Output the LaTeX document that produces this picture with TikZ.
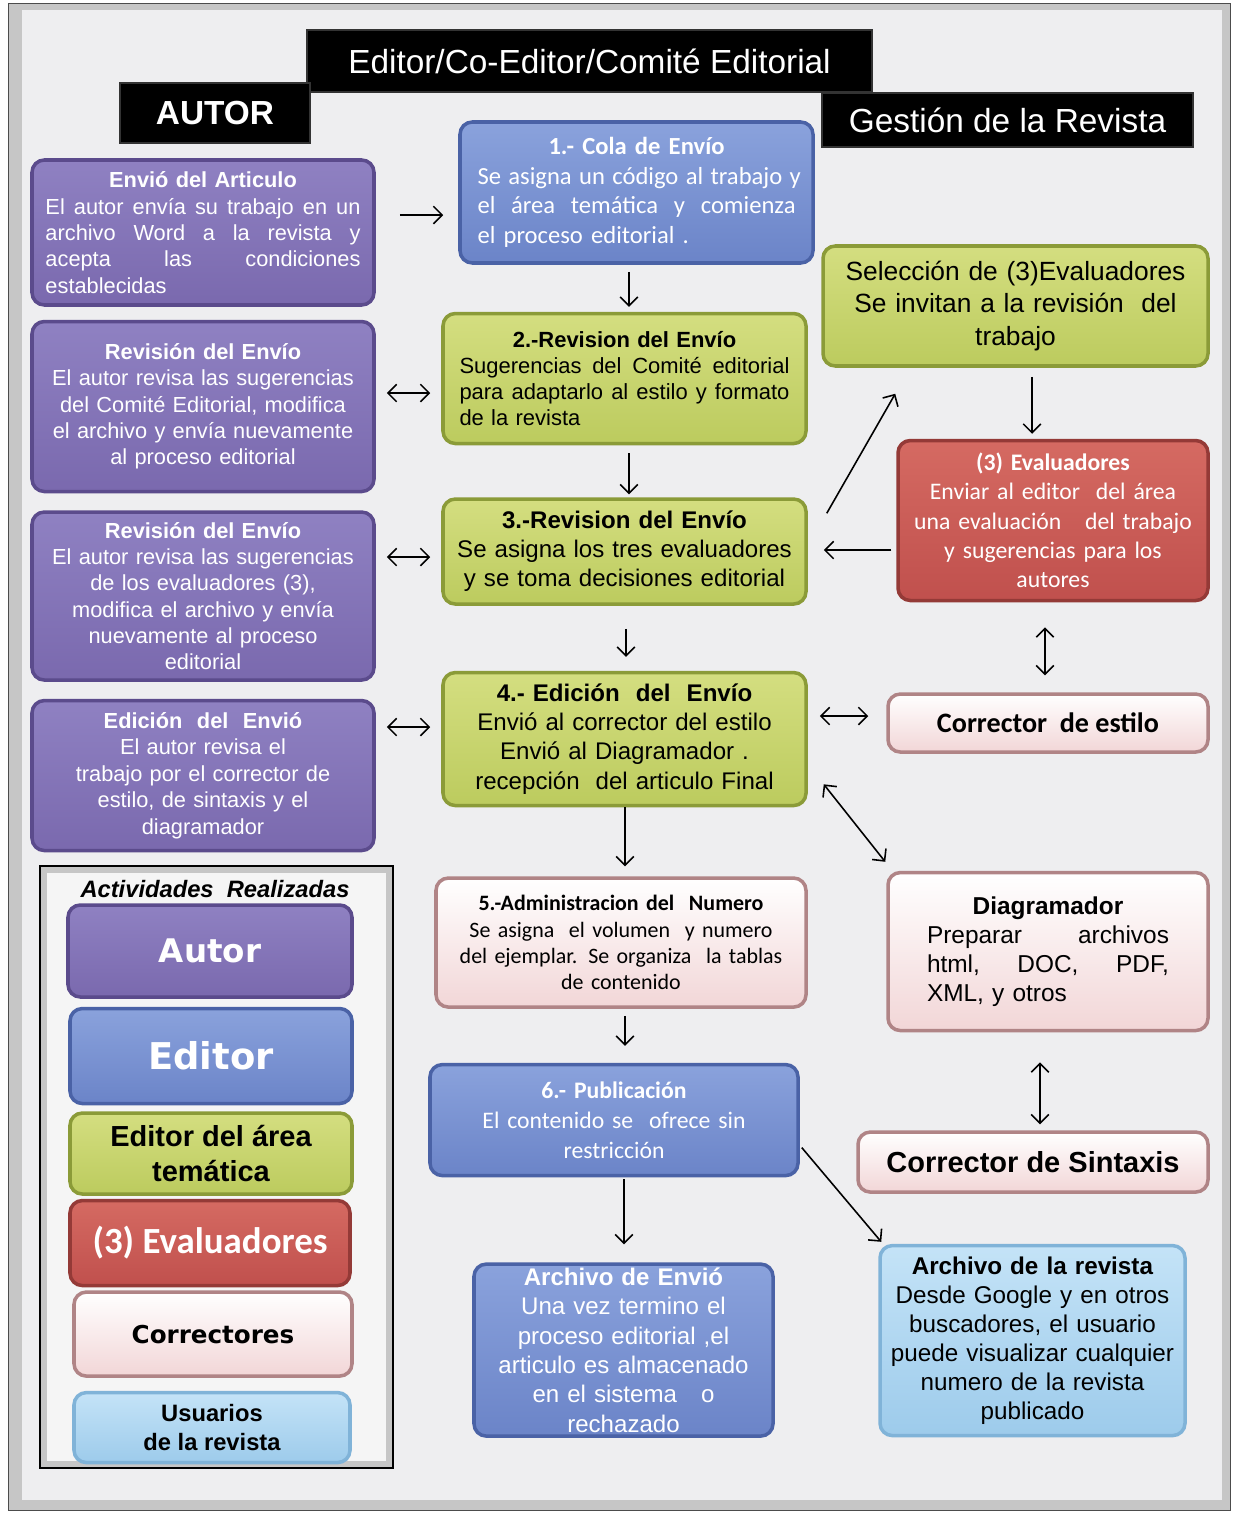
\documentclass[tikz,border=0pt]{standalone}
\usepackage{fontspec}
\setmainfont{Liberation Sans}
\newfontfamily\calibrifont{Carlito}
\newfontfamily\dejavufont{DejaVu Sans}
\usepackage{tikz}
\usetikzlibrary{arrows.meta, positioning}
\definecolor{bgcol}{HTML}{EEEEF0}
\definecolor{autorTop}{HTML}{8F81C2}
\definecolor{autorMain}{HTML}{7A69AE}
\definecolor{autorDark}{HTML}{5B4B8C}
\definecolor{editorTop}{HTML}{8AA2DC}
\definecolor{editorMain}{HTML}{6B84C8}
\definecolor{editorDark}{HTML}{4A62A6}
\definecolor{areaTop}{HTML}{D4DE80}
\definecolor{areaMain}{HTML}{BCCB5E}
\definecolor{areaDark}{HTML}{8B9B38}
\definecolor{evalTop}{HTML}{D56A62}
\definecolor{evalMain}{HTML}{C0504D}
\definecolor{evalDark}{HTML}{943A37}
\definecolor{correcTop}{HTML}{FFFFFF}
\definecolor{correcMain}{HTML}{F2D6D7}
\definecolor{correcDark}{HTML}{B08486}
\definecolor{usuTop}{HTML}{C4E3F7}
\definecolor{usuMain}{HTML}{9DCBEB}
\definecolor{usuDark}{HTML}{80B3D8}
% justified line / left line of a given width
\newcommand{\jl}[2][6.3cm]{\leavevmode\hbox to #1{\frenchspacing\spaceskip=0.3em plus 1fil\xspaceskip=\spaceskip\relax #2}}
\newcommand{\lline}[2][6.3cm]{\leavevmode\hbox to #1{#2\hfil}}
\tikzset{
  boxbase/.style={rectangle, rounded corners=7pt, line width=2pt, align=center, inner sep=1pt},
  autorbox/.style={boxbase, top color=autorTop, bottom color=autorMain, draw=autorDark, text=white, font=\fontsize{12.4}{15}\selectfont},
  editorbox/.style={boxbase, top color=editorTop, bottom color=editorMain, draw=editorDark, text=white, font=\calibrifont\fontsize{14}{16.8}\selectfont},
  areabox/.style={boxbase, top color=areaTop, bottom color=areaMain, draw=areaDark, text=black, font=\fontsize{12.5}{14.9}\selectfont},
  evalbox/.style={boxbase, top color=evalTop, bottom color=evalMain, draw=evalDark, text=white, font=\calibrifont\fontsize{13.5}{16.7}\selectfont},
  correcbox/.style={boxbase, top color=correcTop, bottom color=correcMain, draw=correcDark, text=black},
  usuariobox/.style={boxbase, top color=usuTop, bottom color=usuMain, draw=usuDark, text=black, font=\fontsize{13.8}{16.5}\selectfont},
  titlebox/.style={rectangle, fill=black, draw=gray!40!black, line width=1.5pt, text=white, inner sep=0pt, font=\fontsize{19}{22}\selectfont},
  legendframe/.style={rectangle, draw=black, line width=1pt, fill=gray!45},
  arrowline/.style={-{Straight Barb[length=5pt,width=10pt]}, line width=0.9pt},
  dblarrow/.style={{Straight Barb[length=5pt,width=10pt]}-{Straight Barb[length=5pt,width=10pt]}, line width=0.9pt},
}

\begin{document}
\begin{tikzpicture}
\useasboundingbox (0,0) rectangle (24.66,-30.28);
\fill[gray!45, draw=gray!60!black] (0.16,-0.06) rectangle (24.6,-30.2);
\fill[bgcol] (0.44,-0.2) rectangle (24.44,-30.0);

% headers
\node[titlebox, minimum width=11.3cm, minimum height=1.24cm] (editorial) at (11.79,-1.22) {Editor/Co-Editor/Comité Editorial};
\node[titlebox, font=\bfseries\fontsize{19}{22}\selectfont, minimum width=3.8cm, minimum height=1.2cm] (autor) at (4.3,-2.26) {AUTOR};
\node[titlebox, minimum width=7.42cm, minimum height=1.08cm] (gestion) at (20.15,-2.4) {Gestión de la Revista};

% autor column
\node[autorbox, minimum width=6.84cm, minimum height=2.9cm, text width=6.3cm] (a1) at (4.06,-4.65) {\textbf{Envió del Articulo}\\ \jl{El autor envía su trabajo en un}\\ \jl{archivo Word a la revista y}\\ \jl{acepta las condiciones}\\ \lline{establecidas}};
\node[autorbox, minimum width=6.84cm, minimum height=3.4cm, text width=6.5cm, below=0.26cm of a1] (a2) {\textbf{Revisión del Envío}\\ El autor revisa las sugerencias\\ del Comité Editorial, modifica\\ el archivo y envía nuevamente\\ al proceso editorial};
\node[autorbox, minimum width=6.84cm, minimum height=3.36cm, text width=6.5cm, below=0.34cm of a2] (a3) {\textbf{Revisión del Envío}\\ El autor revisa las sugerencias\\ de los evaluadores (3),\\ modifica  el archivo y envía\\ nuevamente  al proceso\\ editorial};
\node[autorbox, minimum width=6.84cm, minimum height=3.0cm, text width=6.5cm, below=0.34cm of a3] (a4) {\textbf{Edición\ \ del\ \ Envió}\\ El autor revisa el\\ trabajo por el corrector de\\ estilo, de sintaxis y el\\ diagramador};

% editorial column
\node[editorbox, minimum width=7.06cm, minimum height=2.82cm, text width=6.36cm] (e1) at (12.73,-3.85) {\textbf{1.- Cola de Envío}\\ \jl[6.36cm]{Se asigna un código al trabajo y}\\ \jl[6.36cm]{el área temática y comienza}\\ \lline[6.36cm]{el proceso editorial .}};
\node[areabox, minimum width=7.26cm, minimum height=2.6cm, text width=6.6cm, below=0.94cm of e1, xshift=-0.24cm] (e2) {\textbf{2.-Revision del Envío}\\ \jl[6.6cm]{Sugerencias del Comité editorial}\\ \jl[6.6cm]{para adaptarlo al estilo y formato}\\ \lline[6.6cm]{de la revista}};
\node[areabox, font=\fontsize{13.7}{16.5}\selectfont, minimum width=7.26cm, minimum height=2.1cm, text width=7cm, below=1.04cm of e2] (e3) {\textbf{3.-Revision del Envío}\\ Se asigna los tres evaluadores\\ y se toma decisiones editorial};
\node[areabox, font=\fontsize{13.7}{16.6}\selectfont, minimum width=7.26cm, minimum height=2.66cm, text width=7cm, below=1.3cm of e3] (e4) {\textbf{4.- Edición\ \ del\ \ Envío}\\ Envió al corrector del estilo\\ Envió al Diagramador .\\ recepción\ \ del articulo Final};
\node[correcbox, font=\calibrifont\fontsize{12.5}{14.9}\selectfont, minimum width=7.4cm, minimum height=2.58cm, text width=7cm, below=1.38cm of e4, xshift=-0.07cm] (e5) {\textbf{5.-Administracion del\ \ Numero}\\ Se asigna\ \ el volumen\ \ y numero\\ del ejemplar. Se organiza\ \ la tablas\\ de contenido};
\node[editorbox, font=\calibrifont\fontsize{13.5}{17}\selectfont, minimum width=7.36cm, minimum height=2.22cm, text width=7cm, below=1.08cm of e5, xshift=-0.14cm] (e6) {\textbf{6.- Publicación}\\ El contenido se\ \ ofrece sin\\ restricción};
\node[editorbox, font=\fontsize{13.7}{16.7}\selectfont, minimum width=5.98cm, minimum height=3.44cm, text width=5.7cm, below=1.7cm of e6, xshift=0.19cm] (e7) {\textbf{Archivo de Envió}\\ Una vez termino el\\ proceso editorial ,el\\ articulo es almacenado\\ en el sistema \ \ o\\ rechazado};

% gestion column
\node[areabox, font=\fontsize{15}{18.4}\selectfont, minimum width=7.7cm, minimum height=2.4cm, text width=7.4cm] (r1) at (20.31,-6.12) {Selección de (3)Evaluadores\\ Se invitan a la revisión\ \ del\\ trabajo};
\node[evalbox, minimum width=6.2cm, minimum height=3.2cm, text width=5.9cm, below=1.42cm of r1, xshift=0.75cm] (r2) {\textbf{(3) Evaluadores}\\ Enviar al editor\ \ del área\\ una evaluación\ \ \ del trabajo\\ y sugerencias para los\\ autores};
\node[correcbox, font=\calibrifont\bfseries\fontsize{16}{19}\selectfont, minimum width=6.4cm, minimum height=1.16cm, below=1.8cm of r2, xshift=-0.1cm] (r3) {Corrector\ \ de estilo};
\node[correcbox, font=\fontsize{13.9}{16.6}\selectfont, minimum width=6.4cm, minimum height=3.16cm, text width=4.84cm, below=2.34cm of r3] (r4) {\textbf{Diagramador}\\ \jl[4.84cm]{Preparar archivos}\\ \jl[4.84cm]{html, DOC, PDF,}\\ \lline[4.84cm]{XML, y otros}};
\node[correcbox, font=\bfseries\fontsize{16.5}{19}\selectfont, minimum width=7cm, minimum height=1.2cm, below=1.96cm of r4, xshift=-0.3cm] (r5) {Corrector de Sintaxis};
\node[usuariobox, minimum width=6.1cm, minimum height=3.8cm, text width=5.9cm, below=1.0cm of r5, xshift=-0.01cm] (r6) {\textbf{Archivo de la revista}\\ Desde Google y en otros\\ buscadores, el usuario\\ puede visualizar cualquier\\ numero de la revista\\ publicado};

% legend
\node[legendframe, minimum width=7.06cm, minimum height=12.04cm] (legend) at (4.33,-23.34) {};
\fill[white!92!gray] ([shift={(0.16,-0.16)}]legend.north west) rectangle ([shift={(-0.16,0.16)}]legend.south east);
\node[font=\bfseries\itshape\fontsize{13.5}{16}\selectfont] (acttitle) at (4.3,-17.78) {Actividades\ \ Realizadas};
\node[autorbox, font=\dejavufont\bfseries\fontsize{18.5}{22}\selectfont, minimum width=5.68cm, minimum height=1.84cm] (l1) at (4.2,-19.02) {Autor};
\node[editorbox, font=\dejavufont\bfseries\fontsize{21}{24}\selectfont, minimum width=5.64cm, minimum height=1.9cm, below=0.16cm of l1, xshift=0.02cm] (l2) {Editor};
\node[areabox, font=\bfseries\fontsize{16.5}{19.8}\selectfont, minimum width=5.64cm, minimum height=1.62cm, below=0.12cm of l2] (l3) {Editor del área\\ temática};
\node[evalbox, font=\calibrifont\bfseries\fontsize{21}{24}\selectfont, minimum width=5.6cm, minimum height=1.7cm, below=0.06cm of l3, xshift=-0.02cm] (l4) {(3) Evaluadores};
\node[correcbox, font=\dejavufont\bfseries\fontsize{14}{17}\selectfont, minimum width=5.56cm, minimum height=1.68cm, below=0.06cm of l4, xshift=0.06cm] (l5) {Correctores};
\node[usuariobox, font=\bfseries\fontsize{13.5}{16.4}\selectfont, minimum width=5.52cm, minimum height=1.4cm, below=0.26cm of l5, xshift=-0.02cm] (l6) {Usuarios\\ de la revista};

% connectors
\draw[arrowline, shorten <=0.48cm, shorten >=0.3cm] (a1.east |- 0,-4.3) -- (e1.west |- 0,-4.3);
\draw[arrowline, shorten <=0.14cm, shorten >=0.1cm] (e1.south -| 12.58,0) -- (e2.north -| 12.58,0);
\draw[dblarrow, shorten <=0.22cm, shorten >=0.22cm] (a2.east |- 0,-7.86) -- (e2.west |- 0,-7.86);
\draw[arrowline, shorten <=0.16cm, shorten >=0.06cm] (e2.south -| 12.58,0) -- (e3.north -| 12.58,0);
\draw[arrowline] ([shift={(0.38,-0.32)}]e3.north east) -- ([shift={(1.48,-0.52)}]r1.south west);
\draw[arrowline, shorten <=0.18cm, shorten >=0.1cm] (r1.south -| 20.64,0) -- (r2.north -| 20.64,0);
\draw[arrowline, shorten <=0.1cm, shorten >=0.32cm] (r2.west |- 0,-11.0) -- (e3.east |- 0,-11.0);
\draw[dblarrow, shorten <=0.22cm, shorten >=0.22cm] (a3.east |- 0,-11.14) -- (e3.west |- 0,-11.14);
\draw[arrowline, shorten <=0.46cm, shorten >=0.28cm] (e3.south -| 12.52,0) -- (e4.north -| 12.52,0);
\draw[dblarrow, shorten <=0.5cm, shorten >=0.34cm] (r2.south -| 20.9,0) -- (r3.north -| 20.9,0);
\draw[dblarrow, shorten <=0.24cm, shorten >=0.36cm] (e4.east |- 0,-14.32) -- (r3.west |- 0,-14.32);
\draw[dblarrow, shorten <=0.22cm, shorten >=0.22cm] (a4.east |- 0,-14.54) -- (e4.west |- 0,-14.54);
\draw[dblarrow] ([shift={(0.32,0.46)}]e4.south east) -- ([shift={(-0.02,0.18)}]r4.north west);
\draw[arrowline, shorten <=0.0cm, shorten >=0.2cm] (e4.south -| 12.5,0) -- (e5.north -| 12.5,0);
\draw[arrowline, shorten <=0.14cm, shorten >=0.34cm] (e5.south -| 12.5,0) -- (e6.north -| 12.5,0);
\draw[dblarrow, shorten <=0.6cm, shorten >=0.12cm] (r4.south -| 20.8,0) -- (r5.north -| 20.8,0);
\draw[arrowline, shorten <=0.04cm, shorten >=0.36cm] (e6.south -| 12.48,0) -- (e7.north -| 12.48,0);
\draw[arrowline] ([shift={(0.04,-0.55)}]e6.east) -- ([shift={(0.06,0.04)}]r6.north west);
\end{tikzpicture}
\end{document}
